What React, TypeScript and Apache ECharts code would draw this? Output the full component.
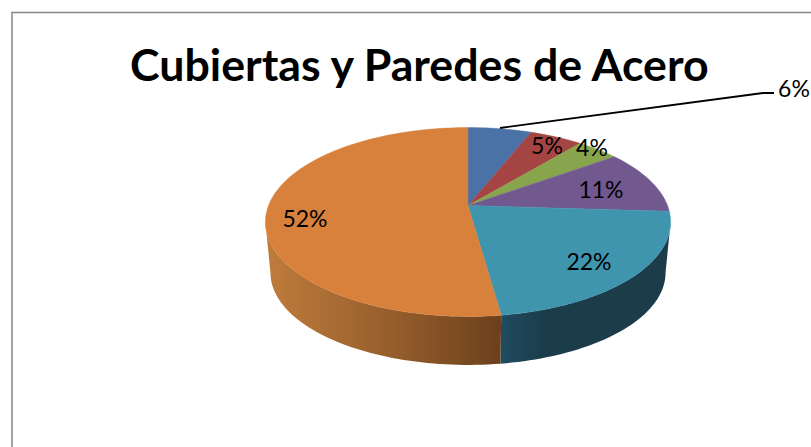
import React, { useEffect, useRef } from "react";
import * as echarts from "echarts";

const titleText = "Cubiertas y Paredes de Acero";
const sliceValues = [6, 5, 4, 11, 21.8, 52.2];
const sliceColors = ["#4a72a6", "#a54543", "#88a54e", "#71588f", "#4095ae", "#d8813c"];
const labelCenters = [
  [794, 88],
  [547, 145],
  [592, 147],
  [601, 189],
  [589, 261],
  [305, 218],
];
const wallStops: Record<number, [number, string][]> = {
  4: [[0, "#1f4c60"], [0.25, "#1b3d4a"], [1, "#1b3c48"]],
  5: [[0, "#bf7c3c"], [0.5, "#99602d"], [0.85, "#7a4a22"], [1, "#6c401c"]],
};

const FONT = "Lato, 'Noto Sans', sans-serif";
const AX = 468, AY = 205.5, A = 199.5, B = 91.6, K = 0.1746;
const S2 = 0.975, AY2 = 256.7;
const WALL_FROM = 100, WALL_TO = 260;

function rim(deg: number, lower: boolean): number[] {
  const t = (deg * Math.PI) / 180;
  const u = Math.sin(t);
  const v = -Math.cos(t);
  const w = 1 - K * v;
  const dx = (A * u) / w;
  const dy = (B * v) / w;
  return lower ? [AX + S2 * dx, AY2 + S2 * dy] : [AX + dx, AY + dy];
}

function arc(from: number, to: number, lower: boolean): number[][] {
  const n = Math.max(2, Math.ceil((to - from) / 1.5));
  const pts: number[][] = [];
  for (let i = 0; i <= n; i++) pts.push(rim(from + ((to - from) * i) / n, lower));
  return pts;
}

function renderSlice(_params: any, api: any) {
  const value = api.value(0);
  const before = api.value(1);
  const i = api.value(2);
  const from = (before / 100) * 360;
  const to = ((before + value) / 100) * 360;
  const children: any[] = [];
  const wFrom = Math.max(from, WALL_FROM);
  const wTo = Math.min(to, WALL_TO);
  if (wTo > wFrom && wallStops[i]) {
    const top = arc(wFrom, wTo, false);
    const bottom = arc(wFrom, wTo, true).reverse();
    children.push({
      type: "polygon",
      shape: { points: top.concat(bottom) },
      style: {
        fill: {
          type: "linear", x: 0, y: 0, x2: 1, y2: 0,
          colorStops: wallStops[i].map(([offset, color]) => ({ offset, color })),
        },
      },
      z2: 1,
    });
  }
  children.push({
    type: "polygon",
    shape: { points: [[AX, AY], ...arc(from, to, false)] },
    style: { fill: sliceColors[i], stroke: sliceColors[i], lineWidth: 0.4 },
    z2: 2,
  });
  children.push({
    type: "text",
    style: {
      x: labelCenters[i][0],
      y: labelCenters[i][1],
      text: `${Math.round(value)}%`,
      align: "center",
      verticalAlign: "middle",
      fontFamily: FONT,
      fontSize: 23,
      fill: "#000",
    },
    z2: 10,
  });
  return { type: "group", children };
}

export default function App() {
  const ref = useRef<HTMLDivElement>(null);
  useEffect(() => {
    document.body.style.margin = "0";
    document.body.style.background = "#fff";
    const chart = echarts.init(ref.current!, undefined, { renderer: "svg" });
    let cum = 0;
    const rows = sliceValues.map((v, i) => {
      const row = [v, cum, i];
      cum += v;
      return row;
    });
    chart.setOption({
      animation: false,
      backgroundColor: "#fff",
      title: {
        text: titleText,
        left: 125,
        top: 36,
        textStyle: { fontFamily: FONT, fontWeight: "bold", fontSize: 44.7, color: "#000" },
      },
      graphic: [
        {
          type: "polyline",
          shape: { points: [[12, 447], [12, 12.6], [811, 12.6]] },
          style: { stroke: "#878787", lineWidth: 1.5, fill: "none" },
        },
        {
          type: "polyline",
          shape: { points: [[500, 128], [763, 93], [774, 93]] },
          style: { stroke: "#000", lineWidth: 1.8, fill: "none" },
          z: 5,
        },
      ],
      series: [
        {
          type: "custom",
          coordinateSystem: "none",
          renderItem: renderSlice,
          data: rows,
          clip: false,
        },
      ],
    });
    return () => chart.dispose();
  }, []);
  return <div ref={ref} style={{ position: "absolute", left: 0, top: 0, width: 811, height: 447 }} />;
}
